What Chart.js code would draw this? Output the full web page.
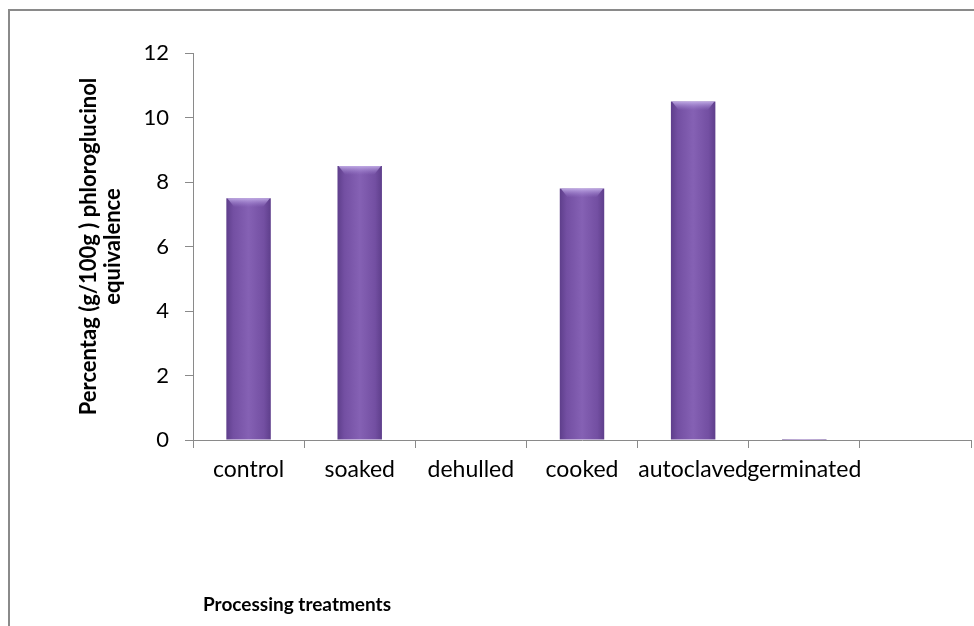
<!DOCTYPE html>
<html lang="en">
<head>
  <meta charset="UTF-8">
  <title>Processing treatments</title>
  <script src="https://cdn.jsdelivr.net/npm/chart.js"></script>
  <style>
    html, body {
      margin: 0;
      padding: 0;
      background: #fff;
      overflow: hidden;
    }
    .frame {
      position: absolute;
      left: 8px;
      top: 9px;
      width: 1000px;
      height: 700px;
      border: 2px solid #8a8a8a;
    }
    #wrap {
      position: absolute;
      left: 0;
      top: 0;
      width: 974px;
      height: 626px;
    }
  </style>
</head>
<body>
  <div class="frame"></div>
  <div id="wrap"><canvas id="chart" width="974" height="626"></canvas></div>

  <script>
    const categories = ["control", "soaked", "dehulled", "cooked", "autoclaved", "germinated", ""];
    const values = [7.5, 8.5, 0, 7.8, 10.5, 0.03, null];
    const yTicks = [0, 2, 4, 6, 8, 10, 12];

    const axisColor = '#8a8a8a';

    // horizontal shading across each bar, darker at the edges
    function barFill(context) {
      const chart = context.chart;
      const xs = chart.scales.x;
      if (!xs || context.dataIndex === undefined) return '#7853a8';
      const cx = xs.getPixelForValue(context.dataIndex);
      if (!isFinite(cx)) return '#7853a8';
      const half = 22;
      const g = chart.ctx.createLinearGradient(cx - half, 0, cx + half, 0);
      g.addColorStop(0, '#5f3f8c');
      g.addColorStop(0.15, '#734fa2');
      g.addColorStop(0.5, '#8561b4');
      g.addColorStop(0.85, '#734fa2');
      g.addColorStop(1, '#5f3f8c');
      return g;
    }

    // light bevel on the top of each bar
    const bevel = {
      id: 'bevel',
      afterDatasetsDraw(chart) {
        const ctx = chart.ctx;
        chart.getDatasetMeta(0).data.forEach((bar, i) => {
          if (!values[i] || values[i] < 1) return;
          const w = bar.width;
          const left = bar.x - w / 2;
          const g = ctx.createLinearGradient(0, bar.y, 0, bar.y + 9);
          g.addColorStop(0, 'rgba(200,180,235,0.9)');
          g.addColorStop(1, 'rgba(160,130,210,0.0)');
          ctx.save();
          ctx.fillStyle = g;
          ctx.beginPath();
          ctx.moveTo(left + 1, bar.y);
          ctx.lineTo(left + w - 1, bar.y);
          ctx.lineTo(left + w - 8, bar.y + 9);
          ctx.lineTo(left + 8, bar.y + 9);
          ctx.closePath();
          ctx.fill();
          ctx.restore();
        });
      }
    };

    // x axis title sits left of centre in the original
    const xTitle = {
      id: 'xTitle',
      afterDraw(chart) {
        const ctx = chart.ctx;
        ctx.save();
        ctx.font = 'bold 19px Lato';
        ctx.fillStyle = '#000';
        ctx.textAlign = 'center';
        ctx.textBaseline = 'middle';
        ctx.fillText('Processing treatments', chart.chartArea.left + 104, 605);
        ctx.restore();
      }
    };

    new Chart(document.getElementById('chart'), {
      type: 'bar',
      data: {
        labels: categories,
        datasets: [{
          data: values,
          backgroundColor: barFill,
          borderWidth: 0,
          barPercentage: 0.8,
          categoryPercentage: 0.5
        }]
      },
      options: {
        responsive: false,
        animation: false,
        layout: { padding: { top: 53, right: 3, left: 0, bottom: 0 } },
        plugins: {
          legend: { display: false },
          tooltip: { enabled: false }
        },
        scales: {
          x: {
            afterFit: (scale) => { scale.height = 186; },
            grid: {
              offset: true,
              drawOnChartArea: false,
              tickLength: 8,
              color: axisColor
            },
            border: { color: axisColor, width: 1 },
            ticks: {
              color: '#000',
              padding: 8,
              maxRotation: 0,
              autoSkip: false,
              font: { family: 'Lato', size: 23 }
            }
          },
          y: {
            min: 0,
            max: 12,
            afterFit: (scale) => { scale.width = 193; },
            afterBuildTicks: (scale) => {
              scale.ticks = yTicks.map(v => ({ value: v }));
            },
            grid: {
              drawOnChartArea: false,
              tickLength: 8,
              color: axisColor
            },
            border: { color: axisColor, width: 1 },
            ticks: {
              color: '#000',
              padding: 16,
              font: { family: 'Lato', size: 22 }
            },
            title: {
              display: true,
              text: ['Percentag (g/100g ) phloroglucinol', 'equivalence'],
              color: '#000',
              font: { family: 'Lato', size: 22, weight: 'bold', lineHeight: 1.1 },
              padding: { top: 77, bottom: 0 }
            }
          }
        }
      },
      plugins: [bevel, xTitle]
    });
  </script>
</body>
</html>
